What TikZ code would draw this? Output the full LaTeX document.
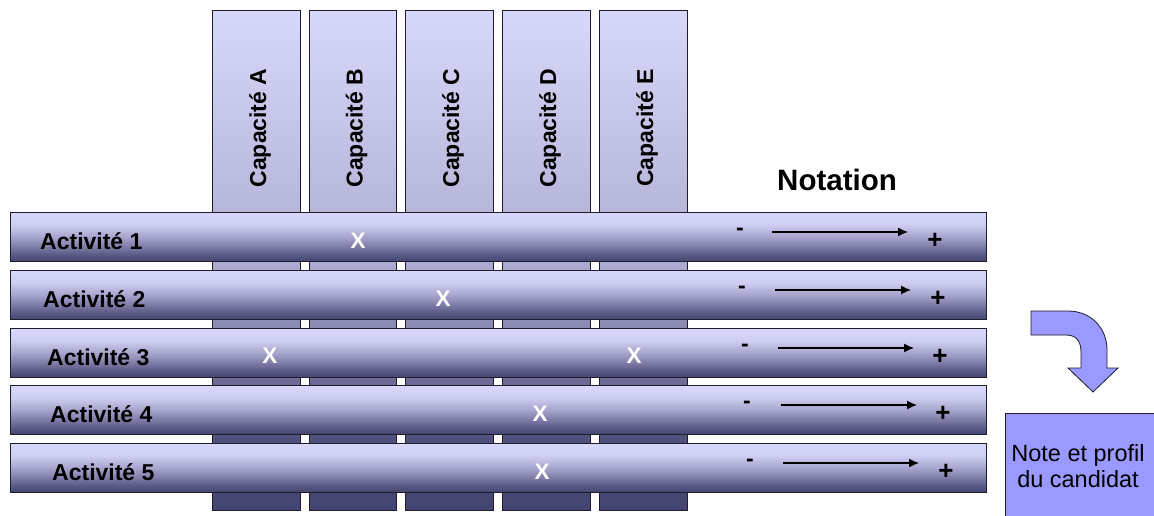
\documentclass[tikz,border=0pt]{standalone}
\usepackage{fontspec}
\setmainfont{Liberation Sans}
\usetikzlibrary{arrows.meta}
\definecolor{cB0}{HTML}{D8D8FA}
\definecolor{cB1}{HTML}{B8B8DC}
\definecolor{cB2}{HTML}{ABABD2}
\definecolor{cB3}{HTML}{6C6C96}
\definecolor{cB4}{HTML}{50507C}
\definecolor{cB5}{HTML}{444470}
\definecolor{rB0}{HTML}{D8D8FC}
\definecolor{rB1}{HTML}{CECEF2}
\definecolor{rB2}{HTML}{A6A6CE}
\definecolor{rB3}{HTML}{7E7EA8}
\definecolor{rB4}{HTML}{5C5C88}
\definecolor{rB5}{HTML}{454572}
\definecolor{noteblue}{HTML}{9999FF}
\definecolor{edge}{HTML}{1E1E2A}
\pgfdeclareverticalshading{colshade}{100bp}{color(0bp)=(cB5); color(25bp)=(cB5); color(32bp)=(cB4); color(38bp)=(cB3); color(49.5bp)=(cB2); color(56bp)=(cB1); color(75bp)=(cB0); color(100bp)=(cB0)}
\pgfdeclareverticalshading{rowshade}{100bp}{color(0bp)=(rB5); color(25bp)=(rB5); color(32bp)=(rB4); color(40bp)=(rB3); color(50bp)=(rB2); color(62bp)=(rB1); color(75bp)=(rB0); color(100bp)=(rB0)}
\tikzset{
  colbox/.style={draw=edge, line width=0.8pt, shading=colshade, minimum width=87.5, minimum height=500, inner sep=0pt},
  rowbox/.style={draw=edge, line width=0.8pt, shading=rowshade, minimum width=976, minimum height=49, inner sep=0pt},
  captxt/.style={rotate=90, font=\bfseries\fontsize{23}{26}\selectfont, inner sep=0pt},
  acttxt/.style={anchor=base west, font=\bfseries\fontsize{23}{26}\selectfont, inner sep=0pt},
  marktxt/.style={anchor=base, text=white, font=\bfseries\fontsize{22.5}{26}\selectfont, inner sep=0pt},
  minustxt/.style={anchor=base, font=\bfseries\fontsize{23}{26}\selectfont, inner sep=0pt},
  plustxt/.style={anchor=base, font=\bfseries\fontsize{26}{28}\selectfont, inner sep=0pt},
  ratearrow/.style={line width=1.3pt, -{Latex[length=10pt,width=9pt]}},
}
\begin{document}
\begin{tikzpicture}[x=1pt, y=-1pt]
\useasboundingbox (0,0) rectangle (1154,515);
% columns
\foreach \n/\cx/\l in {A/256.5/A, B/353/B, C/449.5/C, D/546.5/D, E/643.5/E}{
  \node[colbox] (col\n) at (\cx,260) {};
  \node[captxt] (cap\n) at (\cx+3.5,128) {Capacité \l};
}
% rows
\foreach \i/\top/\lx/\mx/\ax/\px in {1/212/40/740/772/935, 2/270/43/742/775/938, 3/328/47/745/778/940, 4/385/50/747/781/943, 5/443/52/750/783/946}{
  \node[rowbox] (row\i) at (498,\top+24.5) {};
  \node[acttxt] (act\i) at (\lx,\top+37) {Activité \i};
  \node[minustxt] (minus\i) at (\mx,\top+23) {-};
  \node[plustxt] (plus\i) at (\px,\top+36) {+};
  \coordinate (as\i) at (\ax,\top+20);
  \coordinate (ae\i) at (\ax+136,\top+20);
  \draw[ratearrow] (as\i) -- (ae\i);
}
% marks
\node[marktxt] (m1) at (358,248) {X};
\node[marktxt] (m2) at (443,306) {X};
\node[marktxt] (m3a) at (270,363) {X};
\node[marktxt] (m3b) at (634,363) {X};
\node[marktxt] (m4) at (540,421) {X};
\node[marktxt] (m5) at (542,479) {X};
% notation
\node[anchor=base west, font=\bfseries\fontsize{29.5}{32}\selectfont, inner sep=0pt] (notation) at (777,190) {Notation};
% curved arrow
\filldraw[fill=noteblue, draw=edge, line width=0.8pt]
  (1031,311) -- (1068,311) .. controls (1091,311) and (1107,328) .. (1107,350)
  -- (1107,368) -- (1118,368) -- (1093,392) -- (1068,368) -- (1081,368) -- (1081,352)
  .. controls (1081,341) and (1076,335) .. (1066,335) -- (1031,335) -- cycle;
% result box
\node[draw=edge, fill=noteblue, line width=0.8pt, anchor=north west, minimum width=170, minimum height=120] (notebox) at (1005,413) {};
\node[align=center, font=\fontsize{23.5}{25.5}\selectfont, inner sep=0pt] (notetxt) at (1078,466) {Note et profil\\du candidat};
\end{tikzpicture}
\end{document}
